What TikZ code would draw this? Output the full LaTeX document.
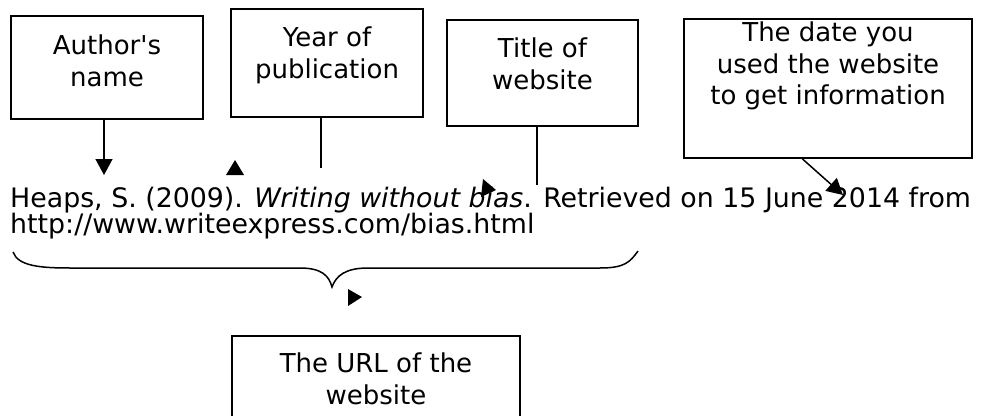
\documentclass[tikz,border=0pt]{standalone}
\usepackage{fontspec}
\setmainfont{DejaVu Sans}
\usetikzlibrary{arrows.meta}
\newcommand{\straightquote}{\XeTeXglyph\XeTeXglyphindex "quotesingle"\relax}
\tikzset{
  box/.style={draw, line width=1.5pt, inner sep=0pt, minimum width=#1},
  lbl/.style={anchor=north, inner sep=0pt, align=center, font=\fontsize{26}{31.5}\selectfont},
  cite/.style={anchor=base west, inner sep=0pt, font=\fontsize{26.8}{27}\selectfont},
  conn/.style={line width=1.5pt},
  arr/.style={line width=1.5pt, -{Triangle[length=16pt,width=17pt]}},
  tip/.style={fill=black}
}
\begin{document}
\begin{tikzpicture}[x=1pt, y=-1pt]
\useasboundingbox (0,0) rectangle (985,415);
\clip (0,0) rectangle (985,415);
\fill[white] (0,0) rectangle (985,415);
% boxes
\node[box=192pt, minimum height=103pt] (b1) at (107,67.5) {};
\node[box=192pt, minimum height=108pt] (b2) at (327,63) {};
\node[box=191pt, minimum height=106pt] (b3) at (542.5,73) {};
\node[box=288pt, minimum height=139pt] (b4) at (828,88.5) {};
\node[box=288pt, minimum height=104pt] (b5) at (376,388) {};
% box texts
\node[lbl] (l1) at (107,35) {Author\straightquote s\\name};
\node[lbl] (l2) at (327,27) {Year of\\publication};
\node[lbl] (l3) at (542.5,38) {Title of\\website};
\node[lbl] (l4) at (828,22) {The date you\\used the website\\to get information};
\node[lbl] (l5) at (376,353) {The URL of the\\website};
% citation
\node[cite] (c1) at (10,207) {Heaps, S. (2009). \textit{Writing without bias}. Retrieved on 15 June 2014 from};
\node[cite] (c2) at (10,233) {http://www.writeexpress.com/bias.html};
% connectors
\coordinate (t1) at (104,175);
\draw[arr] (b1.south -| t1) -- (t1);
\coordinate (t2) at (321,168);
\draw[conn] (b2.south -| t2) -- (t2);
\coordinate (t3) at (537,185);
\draw[conn] (b3.south -| t3) -- (t3);
\coordinate (t4) at (843,195);
\draw[arr] ([xshift=119pt]b4.south west) -- (t4);
% stray arrowheads
\fill[tip] (235,160) -- (244,175) -- (226,175) -- cycle;
\fill[tip] (483,179) -- (496,190) -- (481,197) -- cycle;
\fill[tip] (348,289) -- (362,297) -- (348,306) -- cycle;
% brace
\draw[conn] (13,252) .. controls (18,266) and (40,268) .. (70,268) -- (300,268)
  .. controls (322,268) and (329,276) .. (332,287)
  .. controls (336,276) and (345,268) .. (368,268) -- (600,268)
  .. controls (625,268) and (630,262) .. (638,251);
\end{tikzpicture}
\end{document}
